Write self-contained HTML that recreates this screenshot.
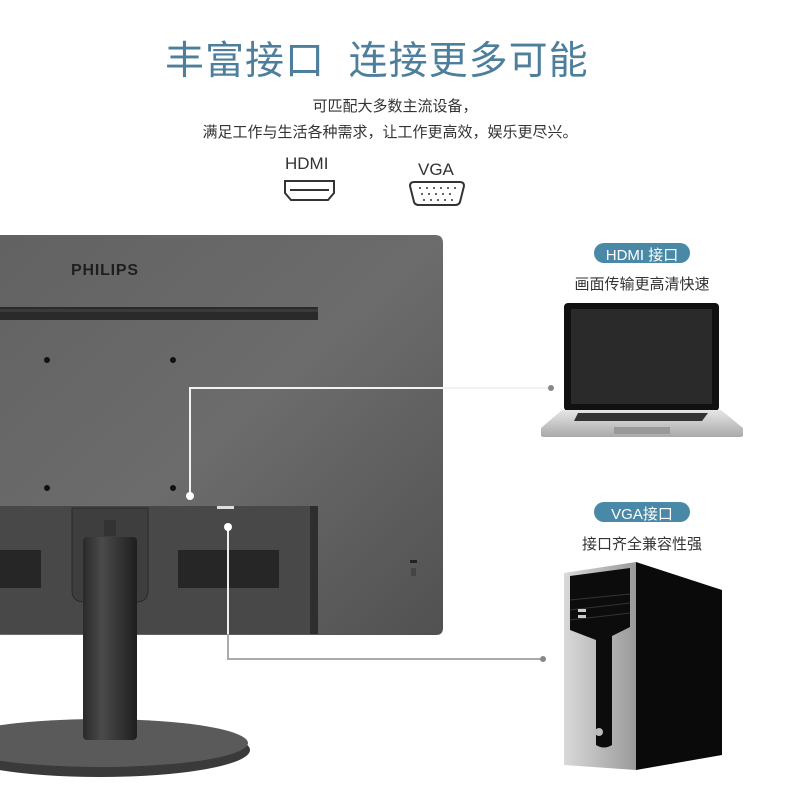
<!DOCTYPE html>
<html><head><meta charset="utf-8"><style>
html,body{margin:0;padding:0;background:#fff;}
body{width:800px;height:800px;overflow:hidden;position:relative;font-family:"Liberation Sans","Noto Sans CJK SC",sans-serif;}
.t{position:absolute;white-space:nowrap;}
</style></head><body>
<svg width="800" height="800" style="position:absolute;left:0;top:0">
<defs>
<linearGradient id="mon" x1="0" y1="0" x2="1" y2="1">
<stop offset="0" stop-color="#626262"/><stop offset="0.5" stop-color="#6c6c6c"/><stop offset="1" stop-color="#515151"/>
</linearGradient>
<linearGradient id="neck" x1="0" x2="1">
<stop offset="0" stop-color="#2a2a2a"/><stop offset="0.35" stop-color="#4a4a4a"/><stop offset="1" stop-color="#1e1e1e"/>
</linearGradient>
<linearGradient id="lap" x1="0" x2="0" y1="0" y2="1">
<stop offset="0" stop-color="#e6e6e6"/><stop offset="1" stop-color="#a9a9a9"/>
</linearGradient>
<linearGradient id="silver" x1="0" x2="1">
<stop offset="0" stop-color="#d9d9d9"/><stop offset="1" stop-color="#9a9a9a"/>
</linearGradient>
</defs>
<ellipse cx="100" cy="750" rx="150" ry="27" fill="#3a3a3a"/>
<ellipse cx="100" cy="743" rx="148" ry="24" fill="#5a5a5a"/>
<path d="M0 235 H435 Q443 235 443 243 V628 Q443 635 436 635 H0 Z" fill="url(#mon)"/>
<rect x="0" y="307" width="318" height="13" fill="#2a2a2a"/>
<rect x="0" y="309" width="318" height="3" fill="#3a3a3a"/>
<circle cx="47" cy="360" r="3" fill="#111"/><circle cx="173" cy="360" r="3" fill="#111"/>
<circle cx="47" cy="488" r="3" fill="#111"/><circle cx="173" cy="488" r="3" fill="#111"/>
<rect x="0" y="506" width="318" height="128" fill="#484848"/>
<rect x="310" y="506" width="8" height="128" fill="#2e2e2e"/>
<rect x="0" y="550" width="41" height="38" fill="#262626"/>
<rect x="178" y="550" width="101" height="38" fill="#262626"/>
<path d="M72 508 V590 Q72 602 84 602 H136 Q148 602 148 590 V508 Z" fill="#3e3e3e" stroke="#2a2a2a"/>
<rect x="104" y="520" width="12" height="16" fill="#333"/>
<rect x="217" y="506" width="17" height="3" fill="#ddd"/>
<rect x="410" y="560" width="7" height="3" fill="#222"/>
<rect x="411" y="568" width="5" height="8" fill="#444"/>
<rect x="83" y="537" width="54" height="203" rx="4" fill="url(#neck)"/>
<polyline points="190,496 190,388 551,388" fill="none" stroke="#f2f2f2" stroke-width="2"/>
<circle cx="190" cy="496" r="4" fill="#fff"/>
<circle cx="551" cy="388" r="3" fill="#888"/>
<polyline points="228,527 228,659 543,659" fill="none" stroke="#aaa" stroke-width="2"/>
<polyline points="228,527 228,634" fill="none" stroke="#eee" stroke-width="2"/>
<circle cx="228" cy="527" r="4" fill="#fff"/>
<circle cx="543" cy="659" r="3" fill="#888"/>
<rect x="564" y="303" width="155" height="108" rx="4" fill="#111"/>
<rect x="571" y="309" width="141" height="95" fill="#2a2a2a"/>
<path d="M562 410 H721 L743 428 V435 Q743 437 740 437 H544 Q541 437 541 435 V428 Z" fill="url(#lap)"/>
<path d="M578 413 H708 L702 421 H574 Z" fill="#333"/>
<rect x="614" y="427" width="56" height="7" fill="#999"/>
<rect x="594" y="243" width="96" height="20" rx="10" fill="#4a88a8"/>
<rect x="594" y="502" width="96" height="20" rx="10" fill="#4a88a8"/>
<path d="M636 562 L722 590 V755 L636 770 Z" fill="#0a0a0a"/>
<path d="M564 573 L636 562 V770 L564 765 Z" fill="url(#silver)"/>
<path d="M570 576 L630 568 V627 L612 636 V745 Q604 750 596 745 V640 L570 630 Z" fill="#0c0c0c"/>
<line x1="570" y1="600" x2="630" y2="594" stroke="#333"/>
<line x1="570" y1="610" x2="630" y2="603" stroke="#333"/>
<line x1="570" y1="620" x2="630" y2="613" stroke="#333"/>
<rect x="578" y="609" width="8" height="3" fill="#ccc"/>
<rect x="578" y="615" width="8" height="3" fill="#ccc"/>
<circle cx="599" cy="732" r="4" fill="#bbb"/>
<path d="M285 181 H334 V193 L328 200 H291 L285 193 Z" fill="none" stroke="#333" stroke-width="2"/>
<line x1="290" y1="190" x2="329" y2="190" stroke="#333" stroke-width="2"/>
<path d="M410 186 Q410 182 414 182 H460 Q464 182 464 186 L460 202 Q459 205 455 205 H419 Q415 205 414 202 Z" fill="none" stroke="#333" stroke-width="2"/>
<g fill="#333">
<circle cx="420" cy="188" r="1"/><circle cx="427" cy="188" r="1"/><circle cx="434" cy="188" r="1"/><circle cx="441" cy="188" r="1"/><circle cx="448" cy="188" r="1"/><circle cx="455" cy="188" r="1"/>
<circle cx="422" cy="194" r="1"/><circle cx="429" cy="194" r="1"/><circle cx="436" cy="194" r="1"/><circle cx="443" cy="194" r="1"/><circle cx="450" cy="194" r="1"/>
<circle cx="424" cy="200" r="1"/><circle cx="431" cy="200" r="1"/><circle cx="438" cy="200" r="1"/><circle cx="445" cy="200" r="1"/><circle cx="452" cy="200" r="1"/>
</g>
</svg>
<div class="t" style="left:71px;top:262px;font-size:16px;font-weight:900;color:#1e1e1e;letter-spacing:0.8px">PHILIPS</div>
<div class="t" style="left:165px;top:30px;width:420px;text-align:center;font-size:39px;color:#4d7f9c;letter-spacing:1px">丰富接口&nbsp;&nbsp;连接更多可能</div>
<div class="t" style="left:0;top:95px;width:790px;text-align:center;font-size:15px;color:#333">可匹配大多数主流设备，</div>
<div class="t" style="left:0;top:121px;width:780px;text-align:center;font-size:15px;color:#333">满足工作与生活各种需求，让工作更高效，娱乐更尽兴。</div>
<div class="t" style="left:285px;top:154px;font-size:17px;color:#333">HDMI</div>
<div class="t" style="left:418px;top:160px;font-size:17px;color:#333">VGA</div>
<div class="t" style="left:594px;top:244px;width:96px;text-align:center;font-size:15px;color:#fff">HDMI 接口</div>
<div class="t" style="left:560px;top:273px;width:164px;text-align:center;font-size:15px;color:#333">画面传输更高清快速</div>
<div class="t" style="left:594px;top:503px;width:96px;text-align:center;font-size:15px;color:#fff">VGA接口</div>
<div class="t" style="left:560px;top:533px;width:164px;text-align:center;font-size:15px;color:#333">接口齐全兼容性强</div>
</body></html>
